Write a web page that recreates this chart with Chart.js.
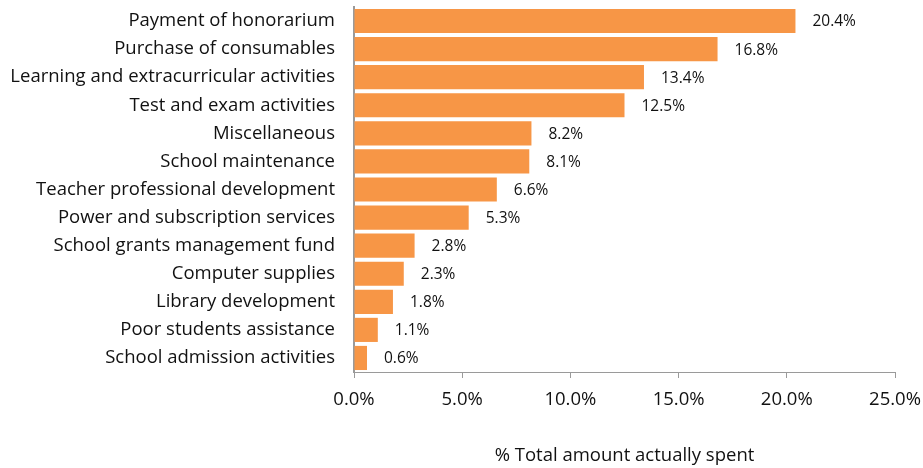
<!DOCTYPE html>
<html>
<head>
<meta charset="utf-8">
<script src="https://cdn.jsdelivr.net/npm/chart.js@4/dist/chart.umd.min.js"></script>
<style>
  html, body { margin: 0; padding: 0; background: #fff; }
  #wrap { width: 923px; height: 468px; }
</style>
</head>
<body>
<div id="wrap"><canvas id="spendChart"></canvas></div>
<script>
// Share of total amount spent, by expenditure item
const categories = [
    'Payment of honorarium',
    'Purchase of consumables',
    'Learning and extracurricular activities',
    'Test and exam activities',
    'Miscellaneous',
    'School maintenance',
    'Teacher professional development',
    'Power and subscription services',
    'School grants management fund',
    'Computer supplies',
    'Library development',
    'Poor students assistance',
    'School admission activities'
];
const shareSpent = [20.4, 16.8, 13.4, 12.5, 8.2, 8.1, 6.6, 5.3, 2.8, 2.3, 1.8, 1.1, 0.6];
const xTicks = [0, 5, 10, 15, 20, 25];

const FONT = '"Open Sans", "Liberation Sans", sans-serif';
const AXIS_GREY = '#9a9a9a';

// writes the percentage just past the end of each bar
const valueLabels = {
    id: 'valueLabels',
    afterDatasetsDraw(chart) {
        const ctx = chart.ctx;
        const meta = chart.getDatasetMeta(0);
        ctx.save();
        ctx.font = '15.5px ' + FONT;
        ctx.fillStyle = '#111';
        ctx.textAlign = 'left';
        ctx.textBaseline = 'middle';
        meta.data.forEach((bar, i) => {
            ctx.fillText(shareSpent[i].toFixed(1) + '%', bar.x + 17, bar.y + 1);
        });
        ctx.restore();
    }
};

new Chart(document.getElementById('spendChart'), {
    type: 'bar',
    data: {
        labels: categories,
        datasets: [{
            data: shareSpent,
            backgroundColor: '#F79646',
            borderWidth: 0,
            barPercentage: 1,
            categoryPercentage: 0.86
        }]
    },
    options: {
        indexAxis: 'y',
        responsive: true,
        maintainAspectRatio: false,
        animation: false,
        layout: { padding: { top: 7, right: 28, left: 0, bottom: 0 } },
        plugins: {
            legend: { display: false },
            tooltip: { enabled: false }
        },
        scales: {
            x: {
                min: 0,
                max: 25,
                afterBuildTicks(scale) {
                    scale.ticks = xTicks.map(v => ({ value: v }));
                },
                afterFit(scale) {
                    scale.height = 96;
                    scale.paddingLeft = 0;
                    scale.paddingRight = 0;
                },
                grid: {
                    drawOnChartArea: false,
                    drawTicks: true,
                    tickLength: 6,
                    color: AXIS_GREY
                },
                border: { color: AXIS_GREY, width: 1 },
                ticks: {
                    padding: 11,
                    color: '#111',
                    font: { family: FONT, size: 18.5 },
                    callback: v => v.toFixed(1) + '%'
                },
                title: {
                    display: true,
                    text: '% Total amount actually spent',
                    color: '#111',
                    font: { family: FONT, size: 18.5 },
                    padding: { top: 0, bottom: 1 }
                }
            },
            y: {
                afterFit(scale) {
                    scale.width = 354;
                    scale.paddingTop = 0;
                    scale.paddingBottom = 0;
                },
                grid: { display: false, drawTicks: false },
                border: { color: AXIS_GREY, width: 2 },
                ticks: {
                    padding: 19,
                    color: '#111',
                    font: { family: FONT, size: 18.5 }
                }
            }
        }
    },
    plugins: [valueLabels]
});
</script>
</body>
</html>
